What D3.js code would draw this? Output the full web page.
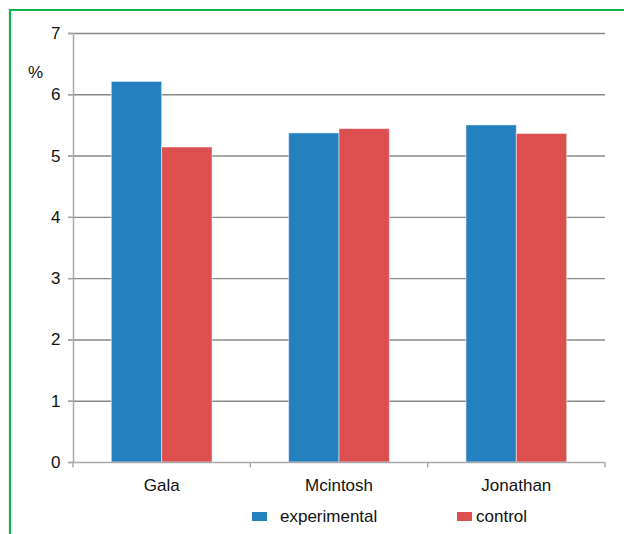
<!DOCTYPE html>
<html><head><meta charset="utf-8">
<script src="https://cdn.jsdelivr.net/npm/d3@7/dist/d3.min.js"></script>
<style>body{margin:0;background:#fff}svg{display:block}</style>
</head><body><svg id="c" width="624" height="534"></svg>
<script>
const categories = ["Gala", "Mcintosh", "Jonathan"];
const seriesNames = ["experimental", "control"];
const experimental = [6.21, 5.37, 5.50];
const control = [5.14, 5.44, 5.36];
const yTicks = [0, 1, 2, 3, 4, 5, 6, 7];
const colors = ["#2580bf", "#dd4f4f"];

const svg = d3.select("#c");
const font = "'Liberation Sans', Arial, sans-serif";
const fs = 17;
// border
svg.append("path").attr("d", "M10,534 V10 H624").attr("fill", "none")
  .attr("stroke", "#12b04a").attr("stroke-width", 2.2);

const L = 73, R = 605, T = 33, B = 462;
const x = d3.scaleBand().domain(categories).range([L, R]).paddingInner(0).paddingOuter(0);
const y = d3.scaleLinear().domain([0, 7]).range([B, T]);
const sub = d3.scaleBand().domain(seriesNames).range([0, x.bandwidth()]).paddingInner(0).paddingOuter(0.76);

// gridlines
svg.append("g").selectAll("line").data(yTicks.filter(d => d > 0)).join("line")
  .attr("x1", L - 5).attr("x2", R).attr("y1", d => y(d) + 0.5).attr("y2", d => y(d) + 0.5)
  .attr("stroke", "#888888").attr("stroke-width", 1.4);

// bars
const data = categories.map((c, i) => ({c, vals: [experimental[i], control[i]]}));
const g = svg.append("g");
data.forEach(d => {
  d.vals.forEach((v, j) => {
    g.append("rect").attr("x", x(d.c) + sub(seriesNames[j])).attr("width", sub.bandwidth())
      .attr("y", y(v)).attr("height", B - y(v)).attr("fill", colors[j])
      .attr("stroke", "rgba(255,255,255,0.5)").attr("stroke-width", 1);
  });
});

// y axis
const yAxis = d3.axisLeft(y).tickValues(yTicks).tickSize(5).tickPadding(8).tickFormat(d3.format("d"));
const ya = svg.append("g").attr("transform", `translate(${L + 0.5},0)`).call(yAxis);
ya.select(".domain").attr("stroke", "#aaaaaa").attr("stroke-width", 1.5).attr("d", `M0,${T}V${B}`);
ya.selectAll(".tick line").attr("stroke", "#aaaaaa").attr("stroke-width", 1.5);
ya.selectAll("text").attr("font-family", font).attr("font-size", fs).attr("fill", "#111");

// x axis
const xa = svg.append("g").attr("transform", `translate(0,${B + 0.5})`);
xa.append("line").attr("x1", L - 5).attr("x2", R).attr("stroke", "#aaaaaa").attr("stroke-width", 1.5);
const bounds = [L].concat(categories.map(c => x(c) + x.bandwidth()));
xa.selectAll("line.t").data(bounds).join("line").attr("class", "t")
  .attr("x1", d => d).attr("x2", d => d).attr("y1", 0).attr("y2", 5)
  .attr("stroke", "#aaaaaa").attr("stroke-width", 1.5);
xa.selectAll("text").data(categories).join("text")
  .attr("x", d => x(d) + x.bandwidth() / 2).attr("y", 28).attr("text-anchor", "middle")
  .attr("font-family", font).attr("font-size", fs).attr("fill", "#111").text(d => d);

// unit label
svg.append("text").attr("x", 28).attr("y", 78).attr("font-family", font).attr("font-size", fs)
  .attr("fill", "#111").text("%");

// legend
const legX = [252, 457];
seriesNames.forEach((s, j) => {
  svg.append("rect").attr("x", legX[j]).attr("y", 512).attr("width", 15).attr("height", 9).attr("fill", colors[j]);
  svg.append("text").attr("x", legX[j] + (j === 0 ? 28 : 19)).attr("y", 522).attr("font-family", font)
    .attr("font-size", fs).attr("fill", "#111").text(s);
});
</script></body></html>
